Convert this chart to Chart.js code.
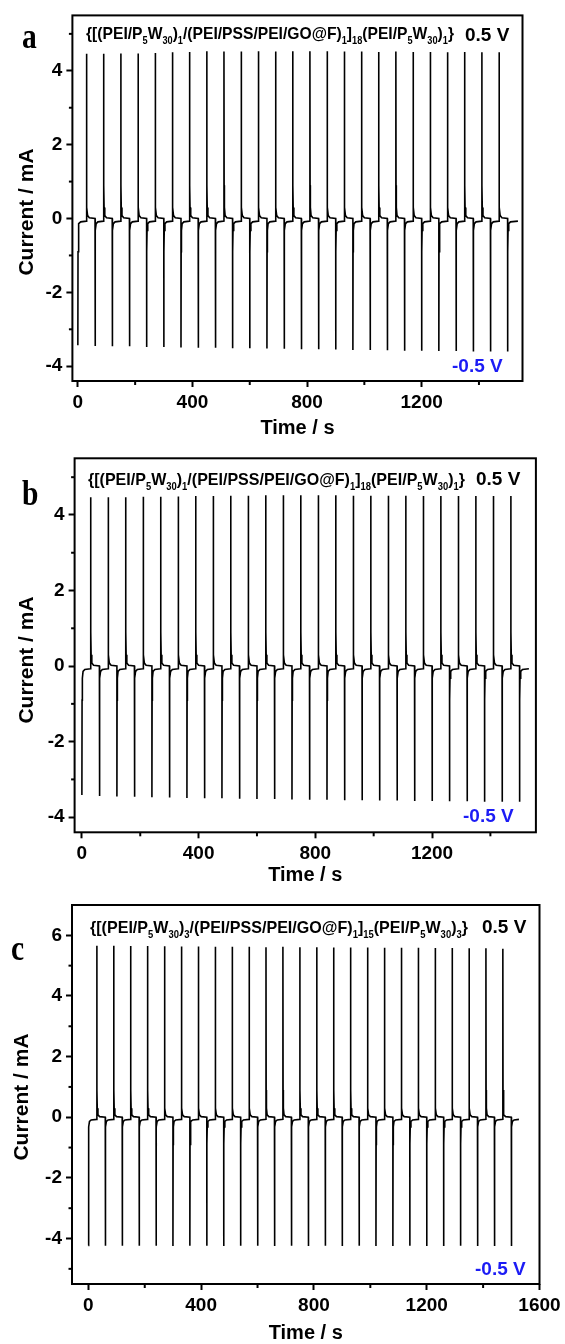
<!DOCTYPE html>
<html>
<head>
<meta charset="utf-8">
<script src="https://cdn.jsdelivr.net/npm/chart.js@4.4.0/dist/chart.umd.min.js"></script>
<style>
  html, body { margin: 0; padding: 0; background: #fff; }
  #wrap { position: relative; width: 565px; height: 1344px; }
  canvas { position: absolute; left: 0; }
</style>
</head>
<body>
<div id="wrap">
  <canvas id="panelA" width="565" height="438" style="top:0"></canvas>
  <canvas id="panelB" width="565" height="448" style="top:438px"></canvas>
  <canvas id="panelC" width="565" height="458" style="top:886px"></canvas>
</div>
<script>
// step times (s): potential goes to -0.5 V here, and to +0.5 V 30 s later
const stepTimes = [0, 60, 120, 180, 240, 300, 360, 420, 480, 540, 600, 660, 720,
  780, 840, 900, 960, 1020, 1080, 1140, 1200, 1260, 1320, 1380, 1440, 1500];
const halfPeriod = 30;
const endTimes = [1536, 1532, 1527];

// current relaxation after each step (s after step -> mA)
const relaxDt = [0.6, 1.6, 4, 10];
const negRelax = [-0.9, -0.32, -0.14, -0.09];
const posRelax = [0.9, 0.3, 0.08, 0.02];
const negLevel = -0.07;
const posLevel = 0.0;

// spike currents (mA)
const posPeakA = [4.46, 4.46, 4.47, 4.47, 4.48, 4.50, 4.51, 4.53, 4.52, 4.52, 4.53, 4.52, 4.53,
  4.53, 4.53, 4.52, 4.52, 4.51, 4.52, 4.51, 4.51, 4.50, 4.51, 4.50, 4.50];
const negPeakA = [-3.43, -3.45, -3.46, -3.46, -3.48, -3.48, -3.49, -3.50, -3.50, -3.51, -3.51, -3.52, -3.53,
  -3.54, -3.54, -3.55, -3.56, -3.56, -3.57, -3.58, -3.58, -3.59, -3.59, -3.60, -3.60, -3.60];
const posPeakB = [4.47, 4.47, 4.47, 4.48, 4.48, 4.49, 4.50, 4.50, 4.51, 4.51, 4.52, 4.52, 4.52,
  4.52, 4.52, 4.51, 4.51, 4.51, 4.51, 4.50, 4.50, 4.50, 4.50, 4.50, 4.50];
const negPeakB = [-3.41, -3.44, -3.45, -3.46, -3.47, -3.48, -3.49, -3.50, -3.50, -3.51, -3.52, -3.52, -3.53,
  -3.54, -3.54, -3.55, -3.55, -3.56, -3.56, -3.57, -3.57, -3.58, -3.58, -3.59, -3.59, -3.59];
const posPeakC = [5.66, 5.66, 5.65, 5.65, 5.64, 5.63, 5.63, 5.62, 5.62, 5.62, 5.61, 5.62, 5.61,
  5.61, 5.60, 5.60, 5.60, 5.59, 5.59, 5.59, 5.58, 5.58, 5.57, 5.57, 5.56];
const negPeakC = [-4.23, -4.24, -4.24, -4.24, -4.24, -4.25, -4.24, -4.24, -4.25, -4.24, -4.24, -4.25, -4.24,
  -4.25, -4.24, -4.25, -4.24, -4.25, -4.25, -4.24, -4.25, -4.25, -4.24, -4.25, -4.25, -4.25];

// axis ticks
const xMajorAB = [0, 400, 800, 1200];
const xMajorC = [0, 400, 800, 1200, 1600];
const xMinor = [200, 600, 1000, 1400];
const yMajorAB = [-4, -2, 0, 2, 4];
const yMinorAB = [-3, -1, 1, 3, 5];
const yMajorC = [-4, -2, 0, 2, 4, 6];
const yMinorC = [-5, -3, -1, 1, 3, 5];

// film labels: [text, subscript?]
const filmAB = [['{[(PEI/P', 0], ['5', 1], ['W', 0], ['30', 1], [')', 0], ['1', 1],
  ['/(PEI/PSS/PEI/GO@F)', 0], ['1', 1], [']', 0], ['18', 1], ['(PEI/P', 0], ['5', 1],
  ['W', 0], ['30', 1], [')', 0], ['1', 1], ['}', 0]];
const filmC = [['{[(PEI/P', 0], ['5', 1], ['W', 0], ['30', 1], [')', 0], ['3', 1],
  ['/(PEI/PSS/PEI/GO@F)', 0], ['1', 1], [']', 0], ['15', 1], ['(PEI/P', 0], ['5', 1],
  ['W', 0], ['30', 1], [')', 0], ['3', 1], ['}', 0]];

const SANS = "'Liberation Sans', Arial, Helvetica, sans-serif";
const SERIF = "'Liberation Serif', 'Times New Roman', serif";
const BLUE = 'rgb(28,28,245)';

function buildTrace(neg, pos, end) {
  const pts = [];
  stepTimes.forEach((t, i) => {
    if (i > 0) pts.push({ x: t, y: posLevel });
    pts.push({ x: t, y: neg[i] });
    relaxDt.forEach((dt, k) => pts.push({ x: t + dt, y: negRelax[k] }));
    if (i < pos.length) {
      const t2 = t + halfPeriod;
      pts.push({ x: t2, y: negLevel });
      pts.push({ x: t2, y: pos[i] });
      relaxDt.forEach((dt, k) => pts.push({ x: t2 + dt, y: posRelax[k] }));
    } else {
      pts.push({ x: end, y: negLevel });
    }
  });
  return pts;
}

// frame, minor ticks, panel letter, film label and potential labels
const panelDeco = {
  id: 'panelDeco',
  afterDraw(chart, args, o) {
    const { ctx, chartArea: a, scales } = chart;
    ctx.save();
    ctx.strokeStyle = '#000';
    ctx.lineWidth = 2;
    o.xMinor.forEach(v => {
      const px = scales.x.getPixelForValue(v);
      ctx.beginPath(); ctx.moveTo(px, a.bottom); ctx.lineTo(px, a.bottom + 4); ctx.stroke();
    });
    o.yMinor.forEach(v => {
      const py = scales.y.getPixelForValue(v);
      ctx.beginPath(); ctx.moveTo(a.left, py); ctx.lineTo(a.left - 3.5, py); ctx.stroke();
    });
    ctx.strokeRect(a.left, a.top, a.right - a.left, a.bottom - a.top);

    ctx.fillStyle = '#000';
    ctx.textBaseline = 'alphabetic';
    ctx.textAlign = 'left';

    // panel letter
    ctx.save();
    ctx.translate(o.letter.x, o.letter.y);
    ctx.scale(0.82, 1);
    ctx.font = 'bold 36px ' + SERIF;
    ctx.fillText(o.letter.text, 0, 0);
    ctx.restore();

    // film composition with subscripts, squeezed to its width
    const mainFont = 'bold 17px ' + SANS;
    const subFont = 'bold 10px ' + SANS;
    let natural = 0;
    o.film.segs.forEach(([s, sub]) => {
      ctx.font = sub ? subFont : mainFont;
      natural += ctx.measureText(s).width;
    });
    ctx.save();
    ctx.translate(o.film.x, o.film.y);
    ctx.scale(o.film.w / natural, 1);
    let cx = 0;
    o.film.segs.forEach(([s, sub]) => {
      ctx.font = sub ? subFont : mainFont;
      ctx.fillText(s, cx, sub ? 5 : 0);
      cx += ctx.measureText(s).width;
    });
    ctx.restore();

    ctx.font = 'bold 19px ' + SANS;
    ctx.fillText('0.5 V', o.vHigh.x, o.vHigh.y);
    ctx.fillStyle = BLUE;
    ctx.fillText('-0.5 V', o.vLow.x, o.vLow.y);

    // y axis title
    ctx.fillStyle = '#000';
    ctx.save();
    ctx.translate(o.yTitle.x, o.yTitle.y);
    ctx.rotate(-Math.PI / 2);
    ctx.textAlign = 'center';
    ctx.textBaseline = 'middle';
    ctx.font = 'bold 21px ' + SANS;
    ctx.fillText('Current / mA', 0, 0);
    ctx.restore();

    ctx.restore();
  }
};

function makePanel(id, p) {
  const tickFont = { family: SANS, size: 19, weight: 'bold' };
  const grid = { display: true, drawOnChartArea: false, drawTicks: true, tickLength: 6, tickWidth: 2, tickColor: '#000' };
  return new Chart(document.getElementById(id), {
    type: 'line',
    data: {
      datasets: [{
        data: buildTrace(p.neg, p.pos, p.end),
        borderColor: '#000',
        borderWidth: 1.6,
        pointRadius: 0,
        tension: 0,
        fill: false
      }]
    },
    options: {
      responsive: false,
      animation: false,
      events: [],
      layout: { padding: { left: 0, top: p.top, right: p.right, bottom: 0 } },
      plugins: {
        legend: { display: false },
        tooltip: { enabled: false },
        panelDeco: p.deco
      },
      scales: {
        x: {
          type: 'linear',
          min: p.xMin, max: p.xMax,
          afterBuildTicks: s => { s.ticks = p.xMajor.map(v => ({ value: v })); },
          afterFit: s => { s.height = p.xAxisH; },
          grid: grid,
          border: { display: false },
          ticks: { font: tickFont, color: '#000', padding: 4, maxRotation: 0, autoSkip: false,
            callback: v => String(v) },
          title: {
            display: true, text: 'Time / s', color: '#000',
            font: { family: SANS, size: 20, weight: 'bold', lineHeight: 1 },
            padding: { top: 0, bottom: p.titlePad }
          }
        },
        y: {
          type: 'linear',
          min: p.yMin, max: p.yMax,
          afterBuildTicks: s => { s.ticks = p.yMajor.map(v => ({ value: v })); },
          afterFit: s => { s.width = p.left; },
          grid: grid,
          border: { display: false },
          ticks: { font: tickFont, color: '#000', padding: 4, callback: v => String(v) }
        }
      }
    },
    plugins: [panelDeco]
  });
}

makePanel('panelA', {
  neg: negPeakA, pos: posPeakA, end: endTimes[0],
  xMin: -19, xMax: 1552, yMin: -4.4, yMax: 5.5,
  xMajor: xMajorAB, yMajor: yMajorAB,
  left: 72.4, right: 42.5, top: 14, xAxisH: 57, titlePad: 0,
  deco: {
    xMinor: xMinor, yMinor: yMinorAB,
    letter: { text: 'a', x: 22, y: 48 },
    film: { segs: filmAB, x: 86, y: 39, w: 368 },
    vHigh: { x: 465, y: 41 }, vLow: { x: 452, y: 372 },
    yTitle: { x: 27, y: 212 }
  }
});

makePanel('panelB', {
  neg: negPeakB, pos: posPeakB, end: endTimes[1],
  xMin: -25, xMax: 1556, yMin: -4.4, yMax: 5.5,
  xMajor: xMajorAB, yMajor: yMajorAB,
  left: 74.6, right: 29.1, top: 20.3, xAxisH: 53.7, titlePad: 1,
  deco: {
    xMinor: xMinor, yMinor: yMinorAB,
    letter: { text: 'b', x: 22, y: 67 },
    film: { segs: filmAB, x: 88, y: 47, w: 377 },
    vHigh: { x: 476, y: 47 }, vLow: { x: 463, y: 384 },
    yTitle: { x: 27, y: 222 }
  }
});

makePanel('panelC', {
  neg: negPeakC, pos: posPeakC, end: endTimes[2],
  xMin: -58, xMax: 1600, yMin: -5.5, yMax: 7,
  xMajor: xMajorC, yMajor: yMajorC,
  left: 72, right: 25.5, top: 19, xAxisH: 60, titlePad: 1,
  deco: {
    xMinor: xMinor, yMinor: yMinorC,
    letter: { text: 'c', x: 11, y: 74 },
    film: { segs: filmC, x: 90, y: 47, w: 378 },
    vHigh: { x: 482, y: 47 }, vLow: { x: 475, y: 389 },
    yTitle: { x: 22, y: 211 }
  }
});
</script>
</body>
</html>
